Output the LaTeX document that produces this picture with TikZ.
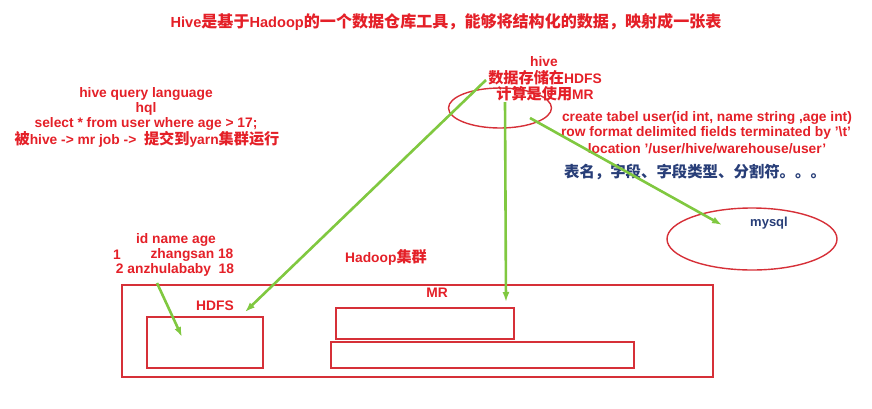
\documentclass[tikz,border=0pt]{standalone}
\usepackage{fontspec}
\setmainfont{Liberation Sans}
\newfontfamily\cjk{Noto Sans CJK SC}[Scale=1.1]
\newcommand\zh[1]{{\cjk #1}}
\usetikzlibrary{shapes.geometric,arrows.meta}
\definecolor{txtred}{RGB}{228,32,40}
\definecolor{boxred}{RGB}{214,48,56}
\definecolor{arrgreen}{RGB}{128,200,64}
\definecolor{navy}{RGB}{40,62,120}
\begin{document}
\begin{tikzpicture}[x=1pt,y=-1pt,
  redtxt/.style={text=txtred,font=\bfseries\fontsize{13.8}{15}\selectfont,inner sep=0pt,align=center},
  boxline/.style={draw=boxred,line width=1.6pt},
  ell/.style={ellipse,draw=boxred,line width=1.4pt,inner sep=0pt},
  garrow/.style={draw=arrgreen,line width=2.6pt,-{Latex[length=10pt,width=7pt]}}]
\useasboundingbox (0,0) rectangle (872,408);
% title
\node[redtxt,font=\bfseries\fontsize{14.6}{16}\selectfont] (title) at (446,22) {Hive\zh{是基于}Hadoop\zh{的一个数据仓库工具，能够将结构化的数据，映射成一张表}};
% left block
\node[redtxt] (hql1) at (146,94) {hive query language};
\node[redtxt] (hql2) at (146,109) {hql};
\node[redtxt] (hql3) at (146,124) {select * from user where age > 17;};
\node[redtxt] (hql4) at (147,139) {\zh{被}hive -> mr job -> \ \zh{提交到}yarn\zh{集群运行}};
% hive block
\node[ell,minimum width=103pt,minimum height=40pt] (hive) at (500,108) {};
\node[redtxt] (hivet1) at (544,62) {hive};
\node[redtxt] (hivet2) at (545,78) {\zh{数据存储在}HDFS};
\node[redtxt] (hivet3) at (545,94) {\zh{计算是使用}MR};
% create block
\node[redtxt] (cr1) at (707,118) {create tabel user(id int, name string ,age int)};
\node[redtxt] (cr2) at (706,133) {row format delimited fields terminated by '\textbackslash t'};
\node[redtxt] (cr3) at (707,149) {location '/user/hive/warehouse/user'};
\node[text=navy,font=\cjk\bfseries\fontsize{14}{16}\selectfont,inner sep=0pt] (meta) at (695,172) {表名，字段、字段类型、分割符。。。};
% mysql
\node[ell,minimum width=170pt,minimum height=62pt] (mysql) at (752,239) {};
\node[text=navy,font=\bfseries\fontsize{13}{15}\selectfont,inner sep=0pt] (mysqlt) at (769,223) {mysql};
% table data
\node[redtxt] (d1) at (176,240) {id name age};
\node[redtxt] (d2a) at (117,255) {1};
\node[redtxt] (d2b) at (192,255) {zhangsan 18};
\node[redtxt] (d3) at (175,270) {2 anzhulababy\ \ 18};
\node[redtxt] (hadoop) at (386,257) {Hadoop\zh{集群}};
% boxes
\node[boxline,minimum width=591pt,minimum height=92pt,inner sep=0pt] (mr) at (417.5,331) {};
\node[redtxt] (mrt) at (437,293) {MR};
\node[redtxt] (hdfst) at (215,306) {HDFS};
\node[boxline,minimum width=116pt,minimum height=51pt,inner sep=0pt] (hdfs) at (205,342.5) {};
\node[boxline,minimum width=178pt,minimum height=31pt,inner sep=0pt] (job1) at (425,323.5) {};
\node[boxline,minimum width=303pt,minimum height=26pt,inner sep=0pt] (job2) at (482.5,355) {};
% arrows
\coordinate (a1s) at (486,80);
\coordinate (a1e) at (245,312);
\coordinate (a2s) at (505,102);
\coordinate (a2e) at (506,302);
\coordinate (a3s) at (530,118);
\coordinate (a3e) at (722,225);
\coordinate (a4s) at (157,283);
\coordinate (a4e) at (182,337);
\draw[garrow] (a1s) -- (a1e);
\draw[garrow] (a2s) -- (a2e);
\draw[garrow] (a3s) -- (a3e);
\draw[garrow] (a4s) -- (a4e);
\end{tikzpicture}
\end{document}
